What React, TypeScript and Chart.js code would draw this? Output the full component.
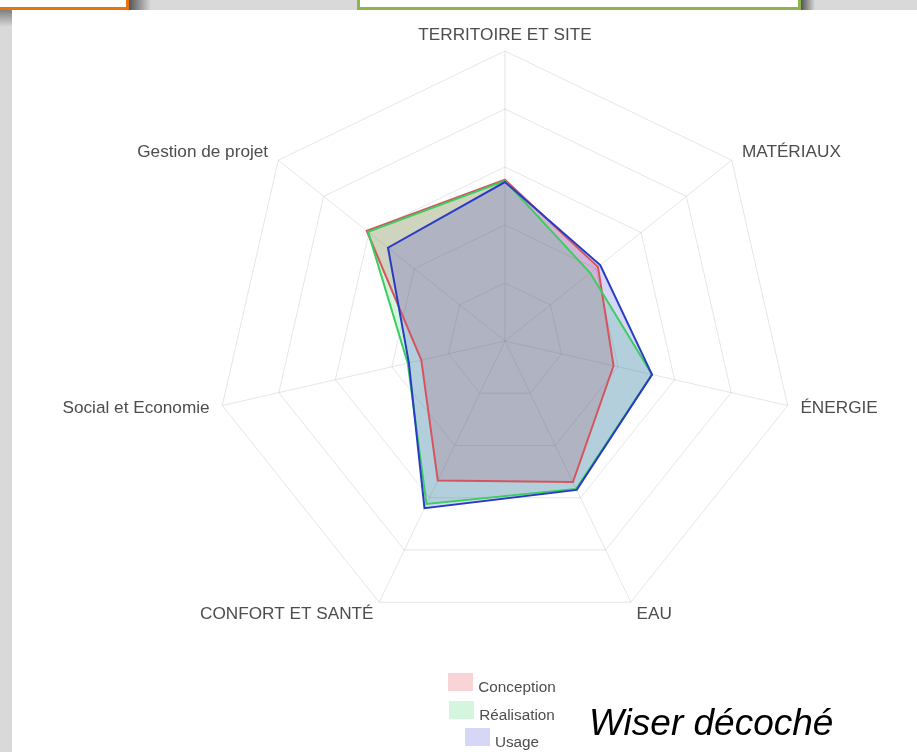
import React, { useEffect, useRef } from "react";
import { Chart, registerables } from "chart.js";

Chart.register(...registerables);

const axisLabels = [
  "TERRITOIRE ET SITE",
  "MATÉRIAUX",
  "ÉNERGIE",
  "EAU",
  "CONFORT ET SANTÉ",
  "Social et Economie",
  "Gestion de projet",
];

const seriesNames = ["Conception", "Réalisation", "Usage"];
const conception = [2.78, 2.05, 1.92, 2.7, 2.67, 1.48, 3.05];
const realisation = [2.76, 1.88, 2.6, 2.83, 3.12, 1.72, 3.02];
const usage = [2.74, 2.1, 2.6, 2.85, 3.2, 1.7, 2.58];

const fills = ["rgba(220,40,50,0.2)", "rgba(40,210,90,0.2)", "rgba(50,50,210,0.2)"];
const strokes = ["rgb(212,85,95)", "rgb(60,205,95)", "rgb(40,60,195)"];

const scaleMax = 5;
const scaleStep = 1;

const FONT = "'Liberation Sans', Arial, Helvetica, sans-serif";

export default function App() {
  const ref = useRef<HTMLCanvasElement | null>(null);

  useEffect(() => {
    if (!ref.current) return;
    const values = [conception, realisation, usage];
    const chart = new Chart(ref.current, {
      type: "radar",
      data: {
        labels: axisLabels,
        datasets: seriesNames.map((name, i) => ({
          label: name,
          data: values[i],
          backgroundColor: fills[i],
          borderColor: strokes[i],
          borderWidth: 2,
          fill: true,
          pointRadius: 0,
          pointHoverRadius: 0,
          order: 3 - i,
        })),
      },
      options: {
        responsive: false,
        animation: false,
        layout: { padding: { top: 27, bottom: 113, left: 0, right: 0 } },
        plugins: {
          legend: { display: false },
          tooltip: { enabled: false },
          filler: { drawTime: "beforeDatasetsDraw" },
        },
        elements: { line: { tension: 0 } },
        scales: {
          r: {
            min: 0,
            max: scaleMax,
            ticks: { display: false, stepSize: scaleStep },
            grid: { color: "rgba(0,0,0,0.1)", lineWidth: 1 },
            angleLines: { color: "rgba(0,0,0,0.1)", lineWidth: 1 },
            pointLabels: {
              color: "#4d4d4d",
              font: { size: 17.2, family: FONT, lineHeight: 0.001 },
              padding: (ctx: any) => (ctx.index === 0 ? 16 : 13),
            },
          },
        },
      },
    });
    return () => chart.destroy();
  }, []);

  const legendTops = [673, 701, 728];

  return (
    <div
      style={{
        position: "absolute",
        left: 0,
        top: 0,
        width: 917,
        height: 752,
        overflow: "hidden",
        background: "#d9d9d9",
        fontFamily: FONT,
      }}
    >
      {/* white panel */}
      <div style={{ position: "absolute", left: 12, top: 10, right: 0, bottom: 0, background: "#ffffff" }} />
      {/* left shadow under orange box */}
      <div
        style={{
          position: "absolute",
          left: 0,
          top: 9,
          width: 12,
          height: 18,
          background: "linear-gradient(to bottom, #7a7a7a, #d9d9d9)",
        }}
      />
      {/* orange box */}
      <div
        style={{
          position: "absolute",
          left: -4,
          top: -4,
          width: 127,
          height: 8,
          border: "3px solid #e8730f",
          background: "#ffffff",
        }}
      />
      <div
        style={{
          position: "absolute",
          left: 129,
          top: 0,
          width: 22,
          height: 10,
          background: "linear-gradient(to right, #555555, #d9d9d9)",
        }}
      />
      {/* green box */}
      <div
        style={{
          position: "absolute",
          left: 357,
          top: -4,
          width: 438,
          height: 8,
          border: "3px solid #8db54b",
          background: "#ffffff",
        }}
      />
      <div
        style={{
          position: "absolute",
          left: 801,
          top: 0,
          width: 14,
          height: 10,
          background: "linear-gradient(to right, #555555, #d9d9d9)",
        }}
      />
      <canvas
        ref={ref}
        width={1010}
        height={752}
        style={{ position: "absolute", left: 0, top: 0, width: 1010, height: 752 }}
      />
      {/* legend */}
      {seriesNames.map((name, i) => (
        <div
          key={name}
          style={{
            position: "absolute",
            left: 302,
            width: 400,
            top: legendTops[i],
            display: "flex",
            justifyContent: "center",
            alignItems: "flex-start",
          }}
        >
          <span style={{ display: "inline-block", width: 25, height: 18, background: fills[i] }} />
          <span
            style={{
              marginLeft: 5,
              marginTop: 5,
              fontSize: 15.3,
              lineHeight: "18px",
              color: "#4d4d4d",
              whiteSpace: "nowrap",
            }}
          >
            {name}
          </span>
        </div>
      ))}
      <div
        style={{
          position: "absolute",
          left: 589,
          top: 704,
          fontSize: 37,
          lineHeight: "37px",
          fontStyle: "italic",
          color: "#000",
          whiteSpace: "nowrap",
        }}
      >
        Wiser décoché
      </div>
    </div>
  );
}
